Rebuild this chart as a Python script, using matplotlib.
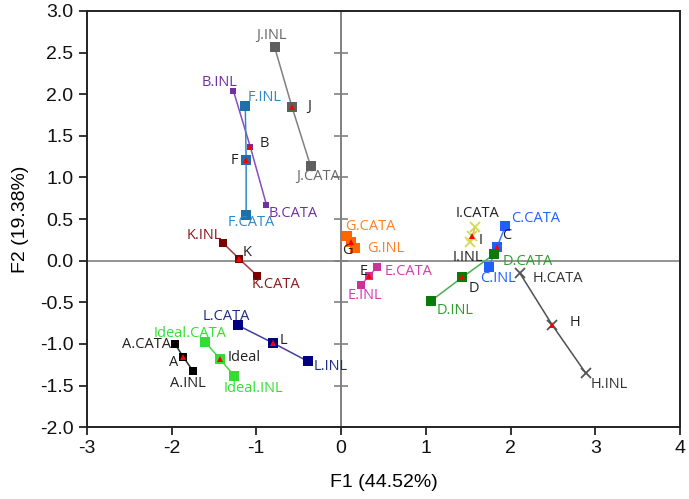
import matplotlib
matplotlib.use('Agg')
from matplotlib import pyplot as plt

plt.rcParams['font.family'] = ['Liberation Sans', 'DejaVu Sans']
plt.rcParams['axes.unicode_minus'] = False

# group names and coordinates of the three points (CATA, combined, INL)
groups = ['J', 'B', 'F', 'K', 'G', 'E', 'I', 'C', 'D', 'H', 'L', 'Ideal', 'A']
cata_x = [-0.36, -0.88, -1.12, -0.99, 0.07, 0.42, 1.58, 1.94, 1.81, 2.11, -1.22, -1.60, -1.96]
cata_y = [1.14, 0.67, 0.55, -0.18, 0.30, -0.08, 0.40, 0.42, 0.08, -0.15, -0.775, -0.98, -1.00]
mid_x = [-0.58, -1.07, -1.12, -1.20, 0.12, 0.33, 1.55, 1.84, 1.43, 2.49, -0.80, -1.43, -1.86]
mid_y = [1.85, 1.365, 1.205, 0.02, 0.22, -0.185, 0.30, 0.16, -0.20, -0.77, -0.99, -1.18, -1.16]
inl_x = [-0.785, -1.27, -1.13, -1.395, 0.17, 0.235, 1.52, 1.74, 1.065, 2.89, -0.39, -1.26, -1.75]
inl_y = [2.57, 2.04, 1.86, 0.215, 0.15, -0.29, 0.22, -0.08, -0.48, -1.355, -1.21, -1.385, -1.32]

x_ticks = [-3, -2, -1, 0, 1, 2, 3, 4]
y_ticks = [-2.0, -1.5, -1.0, -0.5, 0.0, 0.5, 1.0, 1.5, 2.0, 2.5, 3.0]

# styles
marker_color = ['#5f5f5f', '#7030a0', '#1f6fa8', '#7b0000', '#ff6600', '#cc3399', '#d8d850',
                '#1f5fff', '#0a7a0a', '#555555', '#000080', '#33dd33', '#000000']
line_color = ['#808080', '#8a4cc0', '#2e8ac8', '#a04040', '#ff8040', '#d860b0', '#c0c060',
              '#3f7fff', '#4caf50', '#505050', '#4040a0', '#40dd40', '#303030']
text_color = ['#666666', '#7030a0', '#2f89c5', '#8b1a1a', '#ff7f27', '#d63aaf', '#222222',
              '#2060ff', '#2e9e2e', '#333333', '#1f2a8a', '#33e033', '#222222']
marker_kind = ['s', 's', 's', 's', 's', 's', 'x', 's', 's', 'x', 's', 's', 's']
marker_size = [7, 5, 7, 6, 7, 6, 7, 7, 7, 7, 7, 7, 6]

# label offsets in pixels (cata, mid, inl)
cata_off = [(8, -11), (27, -9), (5, -8), (19, -9), (23, 9), (32, -4), (3, 14),
            (30, 7), (33, -7), (38, -5), (-11, 9), (-15, 9), (-28, -1)]
mid_off = [(17, 0), (14, 4), (-12, 0), (8, 7), (-4, -8), (-5, 5), (8, -5),
           (10, 12), (12, -11), (23, 2), (10, 3), (24, 1), (-10, -5)]
inl_off = [(-3, 11), (-14, 8), (19, 8), (-19, 7), (30, 0), (4, -11), (-2, -15),
           (9, -11), (24, -10), (23, -11), (23, -5), (19, -13), (-5, -13)]

fig = plt.figure(figsize=(6.89, 4.99), dpi=100)
ax = fig.add_axes([0.126, 0.144, 0.861, 0.834])

# centre cross: horizontal line at y = 0, vertical line at x = 0 with crossing ticks
ax.axhline(0, color='#808080', lw=1.2, zorder=1)
ax.axvline(0, color='#808080', lw=1.4, zorder=1)
ax.plot([0] * len(y_ticks), y_ticks, ls='none', marker='_', ms=10, mew=1.2,
        color='#808080', zorder=1, clip_on=False)

for i, g in enumerate(groups):
    xs = [cata_x[i], mid_x[i], inl_x[i]]
    ys = [cata_y[i], mid_y[i], inl_y[i]]
    ax.plot(xs, ys, color=line_color[i], lw=1.1, zorder=2)
    mk = marker_kind[i]
    if mk == 'x':
        ax.plot(xs, ys, ls='none', marker='x', ms=marker_size[i], mew=1.3,
                color=marker_color[i], zorder=3)
    else:
        ax.plot(xs, ys, ls='none', marker='s', ms=marker_size[i], mew=0,
                color=marker_color[i], zorder=3)
    ax.plot(mid_x[i], mid_y[i], ls='none', marker='^', ms=4.5, mew=0, color='red', zorder=4)

    ax.annotate(g + '.CATA', (cata_x[i], cata_y[i]), xytext=cata_off[i], textcoords='offset pixels',
                ha='center', va='center', fontsize=10.5, color=text_color[i], family='Open Sans')
    ax.annotate(g, (mid_x[i], mid_y[i]), xytext=mid_off[i], textcoords='offset pixels',
                ha='center', va='center', fontsize=10.5, color='#222222', family='Open Sans')
    ax.annotate(g + '.INL', (inl_x[i], inl_y[i]), xytext=inl_off[i], textcoords='offset pixels',
                ha='center', va='center', fontsize=10.5, color=text_color[i], family='Open Sans')

ax.set_xlim(-3, 4)
ax.set_ylim(-2, 3)
ax.set_xticks(x_ticks)
ax.set_xticklabels([str(t) for t in x_ticks])
ax.set_yticks(y_ticks)
ax.set_yticklabels(['%.1f' % t for t in y_ticks])
ax.tick_params(direction='out', length=6, width=1.2, labelsize=14, colors='#111111')
for s in ax.spines.values():
    s.set_linewidth(1.4)
    s.set_color('#222222')

ax.set_xlabel('F1 (44.52%)', fontsize=14, labelpad=12)
ax.set_ylabel('F2 (19.38%)', fontsize=14, labelpad=8)

fig.savefig('out.png', dpi=100)
